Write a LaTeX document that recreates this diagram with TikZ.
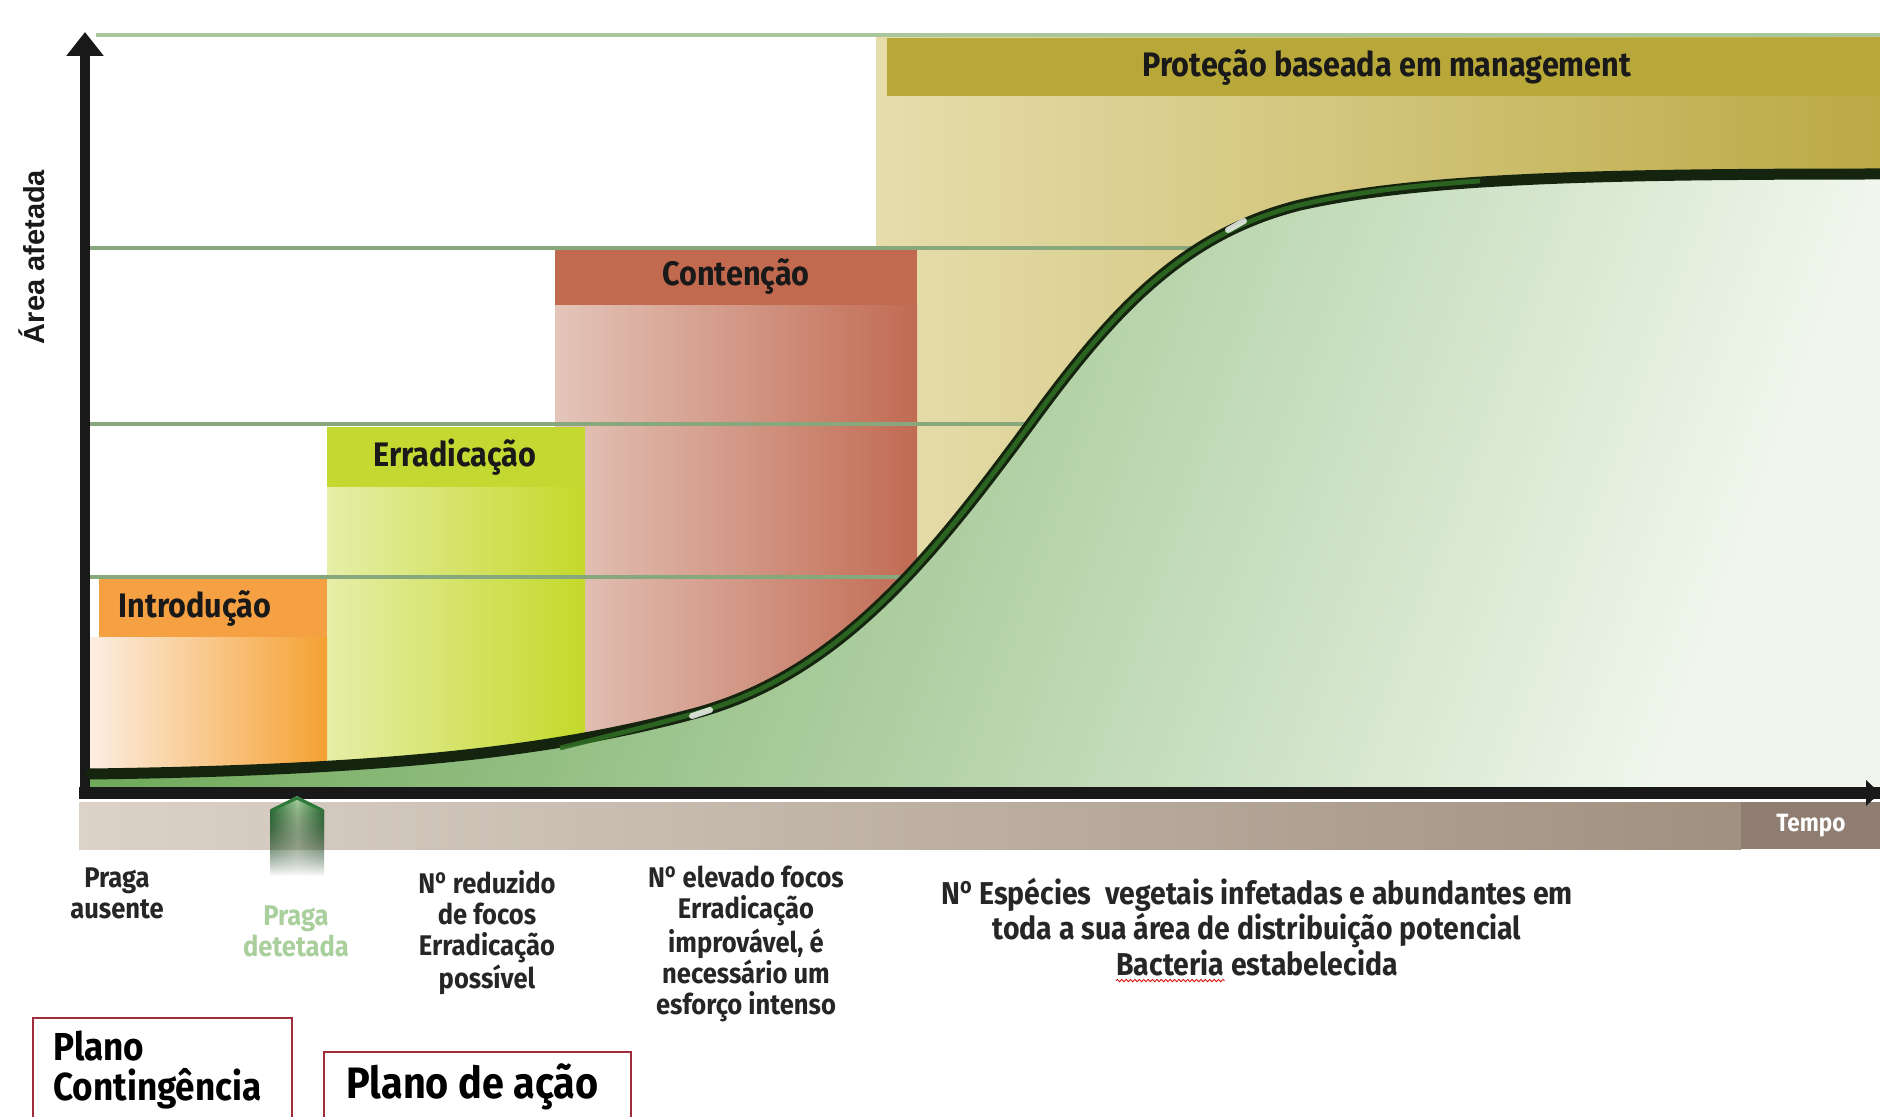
\documentclass[tikz,border=0pt]{standalone}
\usepackage{fontspec}
\setmainfont{Fira Sans}[FakeStretch=0.9]
\newfontfamily\axisfont{Liberation Sans}
\usetikzlibrary{fadings,decorations.pathmorphing,arrows.meta}
\newcommand\myNo{N\textsuperscript{o}}
\definecolor{intH}{HTML}{F5A043}
\definecolor{intL}{HTML}{FCEEE2}
\definecolor{intR}{HTML}{F5A132}
\definecolor{errH}{HTML}{C3D932}
\definecolor{errL}{HTML}{E6EEA8}
\definecolor{errR}{HTML}{C4D92A}
\definecolor{conH}{HTML}{C26A50}
\definecolor{conL}{HTML}{E4C5BA}
\definecolor{conR}{HTML}{C16B53}
\definecolor{proH}{HTML}{B8A83A}
\definecolor{proL}{HTML}{E6DDAC}
\definecolor{proR}{HTML}{BCAA45}
\definecolor{grL}{HTML}{6FA95A}
\definecolor{grR}{HTML}{F0F6EC}
\definecolor{gridG}{HTML}{86A87C}
\definecolor{topG}{HTML}{A9C79A}
\definecolor{tanL}{HTML}{DCD2C8}
\definecolor{tanR}{HTML}{A09080}
\definecolor{tempoC}{HTML}{8E7D70}
\definecolor{curveD}{HTML}{15240E}
\definecolor{curveG}{HTML}{2E6A22}
\definecolor{arrG}{HTML}{2E7A3A}
\definecolor{arrL}{HTML}{A8D4A0}
\definecolor{detG}{HTML}{A9CF9D}
\definecolor{planoR}{HTML}{A02C3C}
\tikzfading[name=fadedown, top color=transparent!0, bottom color=transparent!100]
\begin{document}
\begin{tikzpicture}[x=0.5pt,y=-0.5pt,
  hdr/.style={font=\fontsize{17}{20}\selectfont\bfseries, text=black!90, inner sep=0},
  lab/.style={font=\fontsize{14.2}{15.5}\selectfont\bfseries, align=center, inner sep=0, text=black!85},
  biglab/.style={font=\fontsize{15.8}{16.7}\selectfont\bfseries, inner sep=0, text=black!85},
  planobox/.style={draw=planoR, line width=1pt},
  planotxt/.style={font=\fontsize{19.5}{20.5}\selectfont\bfseries, inner sep=0, text=black},
  gline/.style={draw=gridG, line width=1.6pt},
  axisline/.style={draw=black!90, line width=5pt},
]
\useasboundingbox (0,0) rectangle (1880,1117);
\fill[white] (0,0) rectangle (1880,1117);

% phase bodies and headers
\fill[left color=proL, right color=proR] (876,38) rectangle (1880,790);
\fill[proH] (887,38) rectangle (1880,96);
\fill[left color=conL, right color=conR] (555,305) rectangle (917,790);
\fill[conH] (555,247) rectangle (917,305);
\fill[left color=errL, right color=errR] (327,487) rectangle (585,790);
\fill[errH] (327,427) rectangle (585,487);
\fill[left color=intL, right color=intR] (90,637) rectangle (327,790);
\fill[intH] (99,579) rectangle (327,637);

% grid lines
\coordinate (g1a) at (96,35);   \coordinate (g1b) at (1880,35);
\coordinate (g2a) at (88,248);  \coordinate (g2b) at (1260,248);
\coordinate (g3a) at (88,424);  \coordinate (g3b) at (1080,424);
\coordinate (g4a) at (88,577);  \coordinate (g4b) at (960,577);
\draw[draw=topG, line width=1.6pt] (g1a) -- (g1b);
\draw[gline] (g2a) -- (g2b);
\draw[gline] (g3a) -- (g3b);
\draw[gline] (g4a) -- (g4b);

% green area under curve
\fill[left color=grL, right color=grR, shading angle=70]
  (90,774) .. controls (400,770) and (560,750) .. (700,712)
  .. controls (840,672) and (930,560) .. (1031,423)
  .. controls (1110,315) and (1180,235) .. (1300,205)
  .. controls (1420,178) and (1600,174) .. (1880,174)
  -- (1880,790) -- (90,790) -- cycle;

% tan time band
\fill[left color=tanL, right color=tanR] (79,802) rectangle (1741,849);
\node[fill=tempoC, minimum width=69.5pt, minimum height=23.5pt, anchor=north west, inner sep=0,
      text=white, font=\fontsize{12.5}{14}\selectfont\bfseries] (tempo) at (1741,802) {Tempo};

% axes
\coordinate (O) at (85,793);
\coordinate (Ytop) at (85,32);
\coordinate (Xl) at (79,793);
\coordinate (Xend) at (1888,793);
\draw[axisline, line width=6pt] (Xl) -- (Xend);
\draw[axisline, -{Triangle[width=18pt,length=12pt]}] (O) -- (Ytop);
\fill[black!90] (1880,793) -- (1866,780) -- (1866,806) -- cycle;

% curve
\draw[curveD, line width=5.5pt, line cap=round]
  (90,774) .. controls (400,770) and (560,750) .. (700,712)
  .. controls (840,672) and (930,560) .. (1031,423)
  .. controls (1110,315) and (1180,235) .. (1300,205)
  .. controls (1420,178) and (1600,174) .. (1880,174);
\draw[curveG, line width=2.4pt, opacity=0.9]
  (560,748) .. controls (600,738) and (650,726) .. (700,712)
  .. controls (840,672) and (930,560) .. (1031,423)
  .. controls (1110,315) and (1180,235) .. (1300,205)
  .. controls (1360,191) and (1420,185) .. (1480,181);
% glints
\draw[white, opacity=0.8, line width=3pt, line cap=round] (692,716) -- (710,710);
\draw[white, opacity=0.8, line width=3pt, line cap=round] (1228,230) -- (1244,221);

% detection arrow
\fill[left color=arrG, right color=arrG, middle color=arrL, path fading=fadedown]
  (270,876) -- (270,810) -- (297,796) -- (324,810) -- (324,876) -- cycle;
\draw[arrG, line width=1.5pt] (272,810) -- (297,798) -- (322,810);

% headers
\node[hdr] (pro) at (1387,67) {Proteção baseada em management};
\node[hdr] (con) at (736,276) {Contenção};
\node[hdr] (err) at (455,457) {Erradicação};
\node[hdr] (int) at (195,608) {Introdução};

% axis label
\node[rotate=90, inner sep=0, font=\axisfont\fontsize{14.5}{16}\selectfont\bfseries, text=black!90] (ylab) at (32,257) {Área afetada};

% bottom labels
\node[lab] (aus) at (117,893) {Praga\\ausente};
\node[lab, text=detG] (det) at (296,931) {Praga\\detetada};
\node[lab] (red) at (487,933) {\myNo\ reduzido\\de focos\\Erradicação\\possível};
\node[lab] (ele) at (746,944) {\myNo\ elevado focos\\Erradicação\\improvável, é\\necessário um\\esforço intenso};
\node[biglab, align=center] (esp) at (1257,913) {\myNo\ Espécies\ \ vegetais infetadas e abundantes em\\toda a sua área de distribuição potencial};
\node[biglab] (esp3) at (1257,963) {\phantom{Bacteria} estabelecida};
\node[biglab, anchor=base west] (bac) at (esp3.base west) {Bacteria};
\draw[red!85!black, line width=0.4pt, decorate, decoration={snake, amplitude=0.6pt, segment length=2.2pt}]
  ([yshift=-2.5pt]bac.base west) -- ([yshift=-2.5pt]bac.base east);

% plan boxes
\draw[planobox] (33,1018) rectangle (292,1130);
\draw[planobox] (324,1052) rectangle (631,1130);
\node[planotxt, anchor=west] (pc1) at (53,1046) {Plano};
\node[planotxt, anchor=west] (pc2) at (53,1089) {Contingência};
\node[planotxt, anchor=west, font=\fontsize{22}{24}\selectfont\bfseries] (pa) at (346,1087) {Plano de ação};
\end{tikzpicture}
\end{document}
